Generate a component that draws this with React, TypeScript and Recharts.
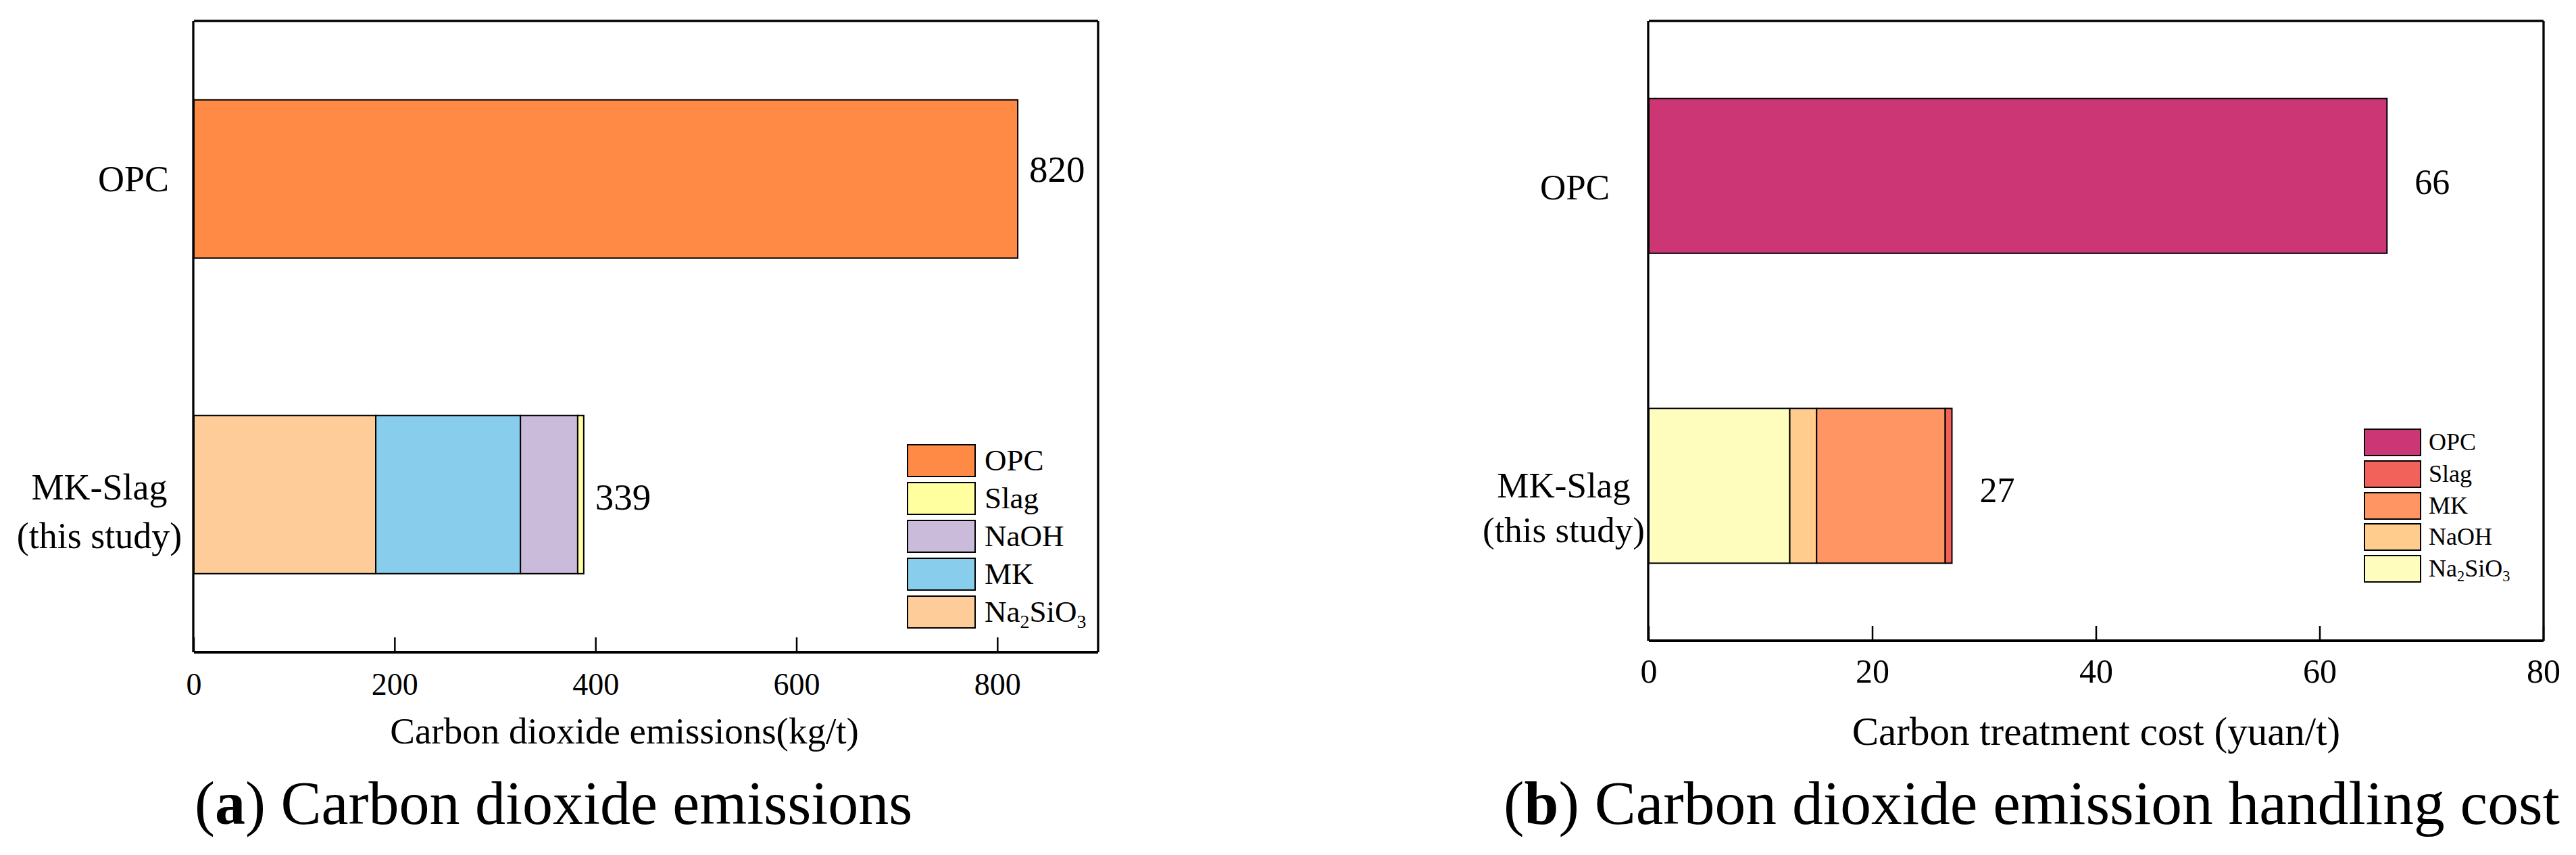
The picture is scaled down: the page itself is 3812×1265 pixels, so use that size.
import React from "react";
import { BarChart, Bar, XAxis, YAxis, ReferenceLine, LabelList } from "recharts";

const SERIF = '"Liberation Serif", "Times New Roman", serif';

const categories = ["OPC", "MK-Slag\n(this study)"];

// (a) carbon dioxide emissions, kg/t
const emOPC = [820, null];
const emNa2SiO3 = [null, 181];
const emMK = [null, 144];
const emNaOH = [null, 57];
const emSlag = [null, 6];
const emTotals = [820, 339];
const emTicks = [0, 200, 400, 600, 800];

// (b) carbon treatment cost, yuan/t
const costOPC = [66, null];
const costNa2SiO3 = [null, 12.6];
const costNaOH = [null, 2.4];
const costMK = [null, 11.5];
const costSlag = [null, 0.6];
const costTotals = [66, 27];
const costTicks = [0, 20, 40, 60, 80];

// left-to-right stack order, and legend order
const emStack = ["OPC", "Na2SiO3", "MK", "NaOH", "Slag"];
const emLegend = ["OPC", "Slag", "NaOH", "MK", "Na2SiO3"];
const costStack = ["OPC", "Na2SiO3", "NaOH", "MK", "Slag"];
const costLegend = ["OPC", "Slag", "MK", "NaOH", "Na2SiO3"];

const emColors: Record<string, string> = {
  OPC: "#FF8A45", Slag: "#FFFFA0", NaOH: "#CBBBDB", MK: "#88CEEC", Na2SiO3: "#FECC98",
};
const costColors: Record<string, string> = {
  OPC: "#CC3674", Slag: "#F3625A", MK: "#FF9563", NaOH: "#FFCC8E", Na2SiO3: "#FEFDBE",
};

const emData = categories.map((name, i) => ({
  name, OPC: emOPC[i], Na2SiO3: emNa2SiO3[i], MK: emMK[i], NaOH: emNaOH[i], Slag: emSlag[i],
}));
const costData = categories.map((name, i) => ({
  name, OPC: costOPC[i], Na2SiO3: costNa2SiO3[i], NaOH: costNaOH[i], MK: costMK[i], Slag: costSlag[i],
}));

const chem = (s: string) =>
  s.split(/(\d+)/).map((p, i) =>
    /^\d+$/.test(p)
      ? <sub key={i} style={{ fontSize: "0.62em", verticalAlign: "-0.32em", lineHeight: 0 }}>{p}</sub>
      : <span key={i}>{p}</span>
  );

function CatTick(props: any) {
  const { x, y, payload, cfg } = props;
  const lines = String(payload.value).split("\n");
  const common = { fontSize: cfg.catFont, fontFamily: SERIF, fill: "#000", dominantBaseline: "central" as const };
  if (lines.length === 1) {
    return <text x={x + cfg.oneDx} y={y + cfg.oneDy} textAnchor="end" {...common}>{lines[0]}</text>;
  }
  return (
    <g>
      {lines.map((l, i) => (
        <text key={i} x={x + cfg.multiDx} y={y + cfg.multiDy + i * cfg.lineGap} textAnchor="middle" {...common}>{l}</text>
      ))}
    </g>
  );
}

// total printed after the last segment of each row; the row is found by its category name
const endLabel = (cfg: any) => (p: any) => {
  const vb = p.viewBox || p;
  if (!vb || !(vb.width > 0)) return null;
  const i = categories.indexOf(p.value);
  if (i < 0) return null;
  return (
    <text x={vb.x + vb.width + cfg.endDx} y={vb.y + vb.height / 2 + cfg.endDy[i]}
      dominantBaseline="central" fontSize={cfg.endFont} fontFamily={SERIF} fill="#000">
      {cfg.totals[i]}
    </text>
  );
};

function Panel({ cfg }: { cfg: any }) {
  const line = { stroke: "#000", strokeWidth: 3.3 };
  return (
    <div style={{ position: "absolute", left: cfg.left, top: 0 }}>
      <BarChart width={cfg.width} height={1265} data={cfg.data} layout="vertical" margin={cfg.margin} barCategoryGap="25%">
        <XAxis xAxisId="v" type="number" domain={cfg.domain} ticks={cfg.ticks} interval={0} height={1}
          axisLine={{ stroke: "#000", strokeWidth: 4 }} tickLine={{ stroke: "#000", strokeWidth: 2.5 }}
          tickSize={-22} tickMargin={cfg.tickMargin}
          tick={{ fontSize: cfg.tickFont, fontFamily: SERIF, fill: "#000" }}
          label={{ value: cfg.title, position: "bottom", offset: cfg.titleOffset, dx: cfg.titleDx,
            fontSize: cfg.titleFont, fontFamily: SERIF, fill: "#000" }} />
        <XAxis xAxisId="top" orientation="top" type="number" domain={[0, 1]} height={1} tick={false} tickLine={false} axisLine={line} />
        <YAxis yAxisId="num" type="number" domain={[0, 2]} ticks={[0, 1, 2]} interval={0} width={1}
          tick={false} tickSize={11} tickLine={{ stroke: "#000", strokeWidth: 3 }} axisLine={line} />
        <YAxis yAxisId="cat" type="category" dataKey="name" width={1} interval={0}
          axisLine={false} tickLine={false} tickSize={0} tickMargin={0}
          tick={(p: any) => <CatTick {...p} cfg={cfg} />} />
        <YAxis yAxisId="r" orientation="right" type="number" domain={[0, 1]} width={1} tick={false} tickLine={false} axisLine={line} />
        <ReferenceLine xAxisId="v" yAxisId="num" y={1} stroke="#d9d9d9" strokeDasharray="8 6" strokeWidth={1.5} />
        {cfg.stack.map((k: string, i: number) => (
          <Bar key={k} dataKey={k} xAxisId="v" yAxisId="cat" stackId="s" fill={cfg.colors[k]}
            stroke="#000" strokeWidth={2} isAnimationActive={false}>
            {(i === 0 || i === cfg.stack.length - 1) && <LabelList dataKey="name" content={endLabel(cfg)} />}
          </Bar>
        ))}
      </BarChart>
    </div>
  );
}

function LegendBlock({ items, colors, x, y, pitch, boxW, boxH, textX, font }: any) {
  return (
    <>
      {items.map((k: string, i: number) => (
        <React.Fragment key={k}>
          <div style={{
            position: "absolute", left: x, top: y + i * pitch, width: boxW - 4, height: boxH - 4,
            background: colors[k], border: "2px solid #000",
          }} />
          <div style={{
            position: "absolute", left: textX, top: y + i * pitch, height: boxH, lineHeight: `${boxH}px`,
            fontSize: font, fontFamily: SERIF, color: "#000", whiteSpace: "nowrap",
          }}>{chem(k)}</div>
        </React.Fragment>
      ))}
    </>
  );
}

const emCfg = {
  left: 0, width: 1700, data: emData, stack: emStack, colors: emColors, totals: emTotals,
  margin: { top: 30, right: 74, bottom: 299, left: 285 },
  domain: [0, 900], ticks: emTicks, tickFont: 46, tickMargin: 52,
  title: "Carbon dioxide emissions(kg/t)", titleFont: 55, titleOffset: 95, titleDx: -32,
  catFont: 54, oneDx: -37, oneDy: 0, multiDx: -140, multiDy: -11, lineGap: 72,
  endDx: 17, endDy: [-14, 4], endFont: 55,
};

const costCfg = {
  left: 1900, width: 1912, data: costData, stack: costStack, colors: costColors, totals: costTotals,
  margin: { top: 30, right: 47, bottom: 316, left: 538 },
  domain: [0, 80], ticks: costTicks, tickFont: 50, tickMargin: 48,
  title: "Carbon treatment cost (yuan/t)", titleFont: 59, titleOffset: 111, titleDx: 0,
  catFont: 53, oneDx: -58, oneDy: 17, multiDx: -126, multiDy: -1, lineGap: 66,
  endDx: 41, endDy: [9, 7], endFont: 52,
};

const captionStyle: React.CSSProperties = {
  position: "absolute", top: 1144, lineHeight: 1, fontFamily: SERIF, color: "#000", whiteSpace: "nowrap",
};

export default function App() {
  return (
    <div style={{ position: "absolute", left: 0, top: 0, width: 3812, height: 1265, background: "#fff", overflow: "hidden" }}>
      <Panel cfg={emCfg} />
      <Panel cfg={costCfg} />
      <LegendBlock items={emLegend} colors={emColors} x={1342} y={657} pitch={56} boxW={102} boxH={49} textX={1457} font={45} />
      <LegendBlock items={costLegend} colors={costColors} x={3498} y={634} pitch={46.8} boxW={85} boxH={41} textX={3594} font={36} />
      <div style={{ ...captionStyle, left: 288, fontSize: 90 }}>(<b>a</b>) Carbon dioxide emissions</div>
      <div style={{ ...captionStyle, left: 2225, fontSize: 91.5, top: 1143 }}>(<b>b</b>) Carbon dioxide emission handling cost</div>
    </div>
  );
}
